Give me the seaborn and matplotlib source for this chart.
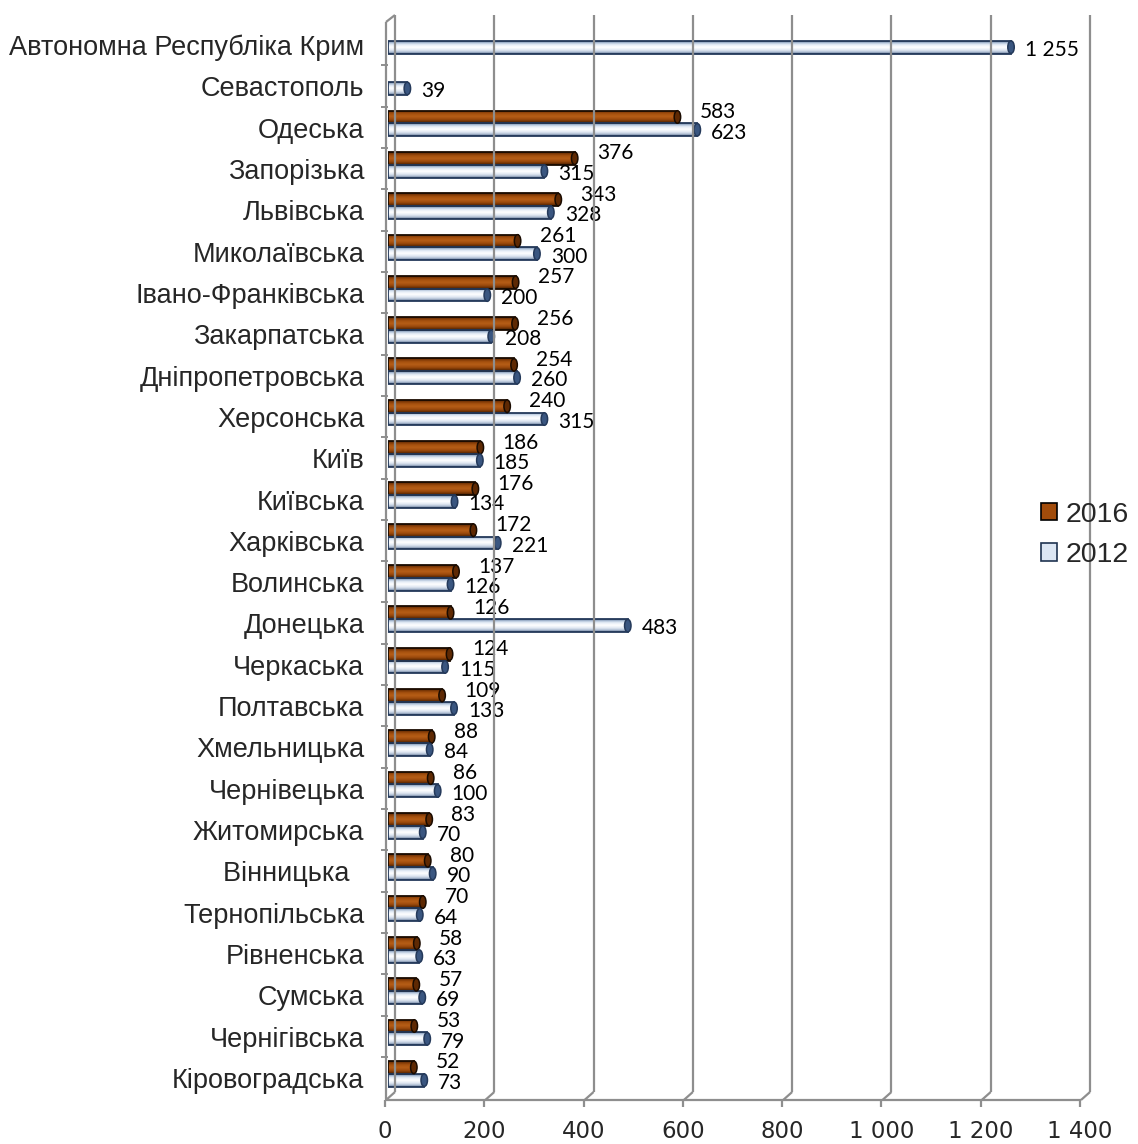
import numpy as np
import pandas as pd
import matplotlib
matplotlib.use("Agg")
import matplotlib.pyplot as plt
import matplotlib.transforms as mtransforms
from matplotlib.lines import Line2D
from matplotlib.patches import Rectangle, Ellipse
from matplotlib.colors import LinearSegmentedColormap
import seaborn as sns

# ---- data ---------------------------------------------------------------
regions = [
    "Автономна Республіка Крим", "Севастополь", "Одеська", "Запорізька",
    "Львівська", "Миколаївська", "Івано-Франківська", "Закарпатська",
    "Дніпропетровська", "Херсонська", "Київ", "Київська", "Харківська",
    "Волинська", "Донецька", "Черкаська", "Полтавська", "Хмельницька",
    "Чернівецька", "Житомирська", "Вінницька  ", "Тернопільська",
    "Рівненська", "Сумська", "Чернігівська", "Кіровоградська",
]
values_2016 = [np.nan, np.nan, 583, 376, 343, 261, 257, 256, 254, 240, 186,
               176, 172, 137, 126, 124, 109, 88, 86, 83, 80, 70, 58, 57, 53, 52]
values_2012 = [1255, 39, 623, 315, 328, 300, 200, 208, 260, 315, 185,
               134, 221, 126, 483, 115, 133, 84, 100, 70, 90, 64, 63, 69, 79, 73]
years = ["2016", "2012"]
x_ticks = [0, 200, 400, 600, 800, 1000, 1200, 1400]

# ---- styling ------------------------------------------------------------
W, H = 1138, 1144
ORANGE = "#A24C0B"
BLUE = "#DCE6F3"
EDGE = {"2016": "#1a0b00", "2012": "#24395a"}
CAP = {"2016": "#5e2903", "2012": "#3a5680"}
GRID = "#8e8e8e"
GRAD = {
    "2016": [(0.0, "#2a1200"), (0.10, "#7c3706"), (0.30, "#A8520F"),
             (0.50, "#B65E17"), (0.72, "#9C4A0C"), (0.90, "#6a2f04"),
             (1.0, "#1c0c00")],
    "2012": [(0.0, "#22385a"), (0.10, "#a4b8d2"), (0.28, "#e6edf7"),
             (0.48, "#ffffff"), (0.70, "#dfe7f2"), (0.88, "#a9b9cf"),
             (1.0, "#2a4060")],
}
# value-label offsets (points) from each bar's end
LABEL_OFFSET = {"2016": (16, 3.5), "2012": (10, -2.0)}

sns.set_theme(style="white")
plt.rcParams["font.family"] = ["Liberation Sans", "DejaVu Sans"]

fig = plt.figure(figsize=(W / 100, H / 100), dpi=100)
ax = fig.add_axes([388 / W, 1 - 1092 / H, 695 / W, (1092 - 15) / H])

df = pd.DataFrame({"region": regions, "2016": values_2016, "2012": values_2012})
long = df.melt(id_vars="region", value_vars=years, var_name="year",
               value_name="value").dropna()

sns.barplot(data=long, x="value", y="region", hue="year", order=regions,
            hue_order=years, palette={"2016": ORANGE, "2012": BLUE},
            width=0.62, errorbar=None, legend=False, saturation=1,
            orient="h", ax=ax)

ylim = (25.442, -0.623)
ax.set_xlim(0, 1400)
ax.set_ylim(*ylim)

# cylinder shading on every bar, plus a value label at its end
cap_w = 13.0  # data units
for year, cont in zip(years, ax.containers):
    cmap = LinearSegmentedColormap.from_list("g" + year, GRAD[year])
    grad = cmap(np.linspace(0, 1, 64))[:, None, :]
    for bar, val in zip(cont.patches, cont.datavalues):
        x0, y0 = bar.get_x(), bar.get_y()
        w, h = bar.get_width(), bar.get_height()
        im = ax.imshow(grad, extent=[x0, x0 + w, y0 + h, y0], origin="upper",
                       aspect="auto", zorder=2.5, interpolation="bilinear")
        im.set_clip_path(bar)
        bar.set_facecolor("none")
        bar.set_edgecolor(EDGE[year])
        bar.set_linewidth(1.3)
        bar.set_zorder(3)
        yc = y0 + h / 2
        ax.add_patch(Ellipse((x0 + w, yc), cap_w, h * 0.98, facecolor=CAP[year],
                             edgecolor=EDGE[year], lw=1.1, zorder=3.2))
        txt = f"{val:,.0f}".replace(",", " ")
        ax.annotate(txt, xy=(x0 + w, yc), xytext=LABEL_OFFSET[year],
                    textcoords="offset points", ha="left", va="center",
                    fontsize=15, family=["Lato", "DejaVu Sans"],
                    color="black", zorder=5)

ax.set_xlim(0, 1400)
ax.set_ylim(*ylim)

# axes: category labels on minor ticks, wall tick marks on major ticks
for s in ax.spines.values():
    s.set_visible(False)
ax.set_yticks([k - 0.405 for k in range(1, 26)])
ax.set_yticklabels([])
ax.set_yticks([j + 0.103 for j in range(len(regions))], minor=True)
ax.set_yticklabels(regions, minor=True, fontsize=19.5)
ax.tick_params(axis="y", which="major", length=5, width=1.4, color=GRID,
               direction="out", left=True)
ax.tick_params(axis="y", which="minor", length=0, pad=17)
ax.set_ylabel("")
ax.set_xlabel("")
ax.set_xticks(x_ticks)
ax.set_xticklabels([f"{v:,}".replace(",", " ") for v in x_ticks],
                   fontsize=16.5, family=["Liberation Sans Narrow", "DejaVu Sans"])
ax.tick_params(axis="x", length=0, pad=20)
shift = mtransforms.ScaledTranslation(-3 / 100, 0, fig.dpi_scale_trans)
for lab in ax.get_xticklabels():
    lab.set_transform(lab.get_transform() + shift)
ax.grid(False)

# 3-D frame: back-wall gridlines, floor edge and left wall
ident = mtransforms.IdentityTransform()
def line(xs, ys, lw=1.6):
    fig.add_artist(Line2D(xs, [H - y for y in ys], transform=ident,
                          color=GRID, lw=lw, zorder=1,
                          solid_capstyle="butt"))

y_top, y_back, y_front = 15, 1092, 1100
for v in x_ticks:
    xp = ax.transData.transform((v, 0))[0]
    line([xp + 7, xp + 7], [y_top, y_back])
    line([xp + 7, xp - 2], [y_back, y_front])
    line([xp - 3, xp - 3], [y_front, y_front + 7])
x_left = ax.transData.transform((0, 0))[0]
x_right = ax.transData.transform((1400, 0))[0]
line([x_left - 2, x_left - 2], [22, y_front])
line([x_left - 2, x_left + 7], [22, y_top])
line([x_left - 2, x_right - 2], [y_front, y_front])

# legend
handles = [Rectangle((0, 0), 1, 1, facecolor=ORANGE, edgecolor="black", lw=1.2),
           Rectangle((0, 0), 1, 1, facecolor=BLUE, edgecolor="#1F3350", lw=1.2)]
fig.legend(handles, years, loc="center left",
           bbox_to_anchor=(1030 / W, 1 - 535 / H), frameon=False,
           fontsize=20.5, handlelength=0.55, handleheight=0.55,
           handletextpad=0.3, labelspacing=0.5, borderaxespad=0)

fig.savefig("out.png", dpi=100)
